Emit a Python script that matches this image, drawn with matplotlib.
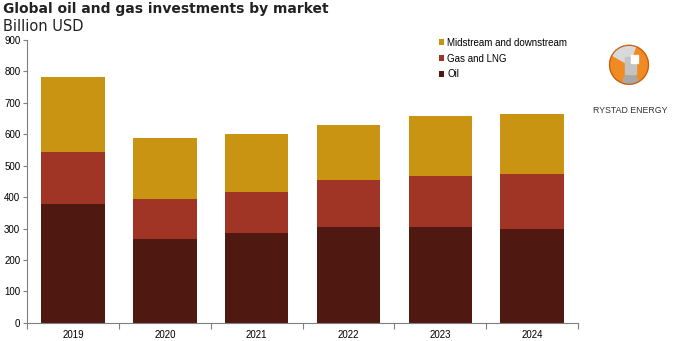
import matplotlib.pyplot as plt
import numpy as np
from matplotlib.patches import Circle, Wedge, Rectangle

years = ['2019', '2020', '2021', '2022', '2023', '2024']
oil = [378, 268, 285, 305, 304, 300]
gas_lng = [167, 127, 132, 150, 163, 172]
midstream = [236, 194, 184, 173, 190, 193]

c_oil = '#4f1912'
c_gas = '#a03425'
c_mid = '#c99411'

fig = plt.figure(figsize=(6.8, 3.41), dpi=100)
ax = fig.add_axes([0.040, 0.053, 0.81, 0.83])

x = np.arange(len(years))
w = 0.69
ax.bar(x, oil, w, color=c_oil, label='Oil')
ax.bar(x, gas_lng, w, bottom=oil, color=c_gas, label='Gas and LNG')
bot = np.array(oil) + np.array(gas_lng)
ax.bar(x, midstream, w, bottom=bot, color=c_mid, label='Midstream and downstream')

ax.set_xlim(-0.5, len(years) - 0.5)
ax.set_ylim(0, 900)
ax.set_yticks(range(0, 901, 100))
ax.set_xticks(x)
ax.set_xticklabels(years)
ax.tick_params(axis='x', length=0, labelsize=7, pad=5)
ax.set_xticks(np.arange(-0.5, len(years)), minor=True)
ax.tick_params(axis='x', which='minor', length=4, width=0.8, color='#7f7f7f')
ax.tick_params(axis='y', length=3, width=0.8, color='#7f7f7f', labelsize=7, pad=2)
for lab in ax.get_xticklabels() + ax.get_yticklabels():
    lab.set_fontfamily('Liberation Sans')
for s in ['top', 'right']:
    ax.spines[s].set_visible(False)
for s in ['left', 'bottom']:
    ax.spines[s].set_color('#7f7f7f')
    ax.spines[s].set_linewidth(0.8)

h, l = ax.get_legend_handles_labels()
leg = fig.legend(h[::-1], l[::-1], loc='upper left', bbox_to_anchor=(0.632, 0.915),
                 frameon=False, prop={'family': 'Liberation Sans', 'size': 7},
                 handlelength=0.6, handleheight=0.6, handletextpad=0.3, labelspacing=0.6)

fig.text(0.005, 0.995, 'Global oil and gas investments by market', fontsize=10,
         fontweight='bold', color='#222222', va='top', ha='left')
fig.text(0.005, 0.945, 'Billion USD', fontsize=10.5, color='#222222', va='top', ha='left')

# simple logo
lax = fig.add_axes([0.87, 0.70, 0.11, 0.22])
lax.set_xlim(-1, 1)
lax.set_ylim(-1, 1)
lax.set_aspect('equal')
lax.axis('off')
lax.add_patch(Circle((0, 0), 0.52, color='#f08a22'))
lax.add_patch(Wedge((0, 0), 0.52, 70, 150, color='#d9d9d9'))
lax.add_patch(Wedge((0, 0), 0.52, 250, 300, color='#a8a8a8'))
lax.add_patch(Rectangle((-0.12, -0.25), 0.3, 0.45, color='#c4c4c4'))
lax.add_patch(Rectangle((0.05, 0.05), 0.2, 0.2, color='#ffffff'))
lax.add_patch(Circle((0, 0), 0.52, fill=False, lw=0.8, color='#c55a10'))
fig.text(0.927, 0.675, 'RYSTAD ENERGY', fontsize=6.3, family='Liberation Sans',
         color='#333333', ha='center', va='center')

fig.savefig('out.png', dpi=100)
